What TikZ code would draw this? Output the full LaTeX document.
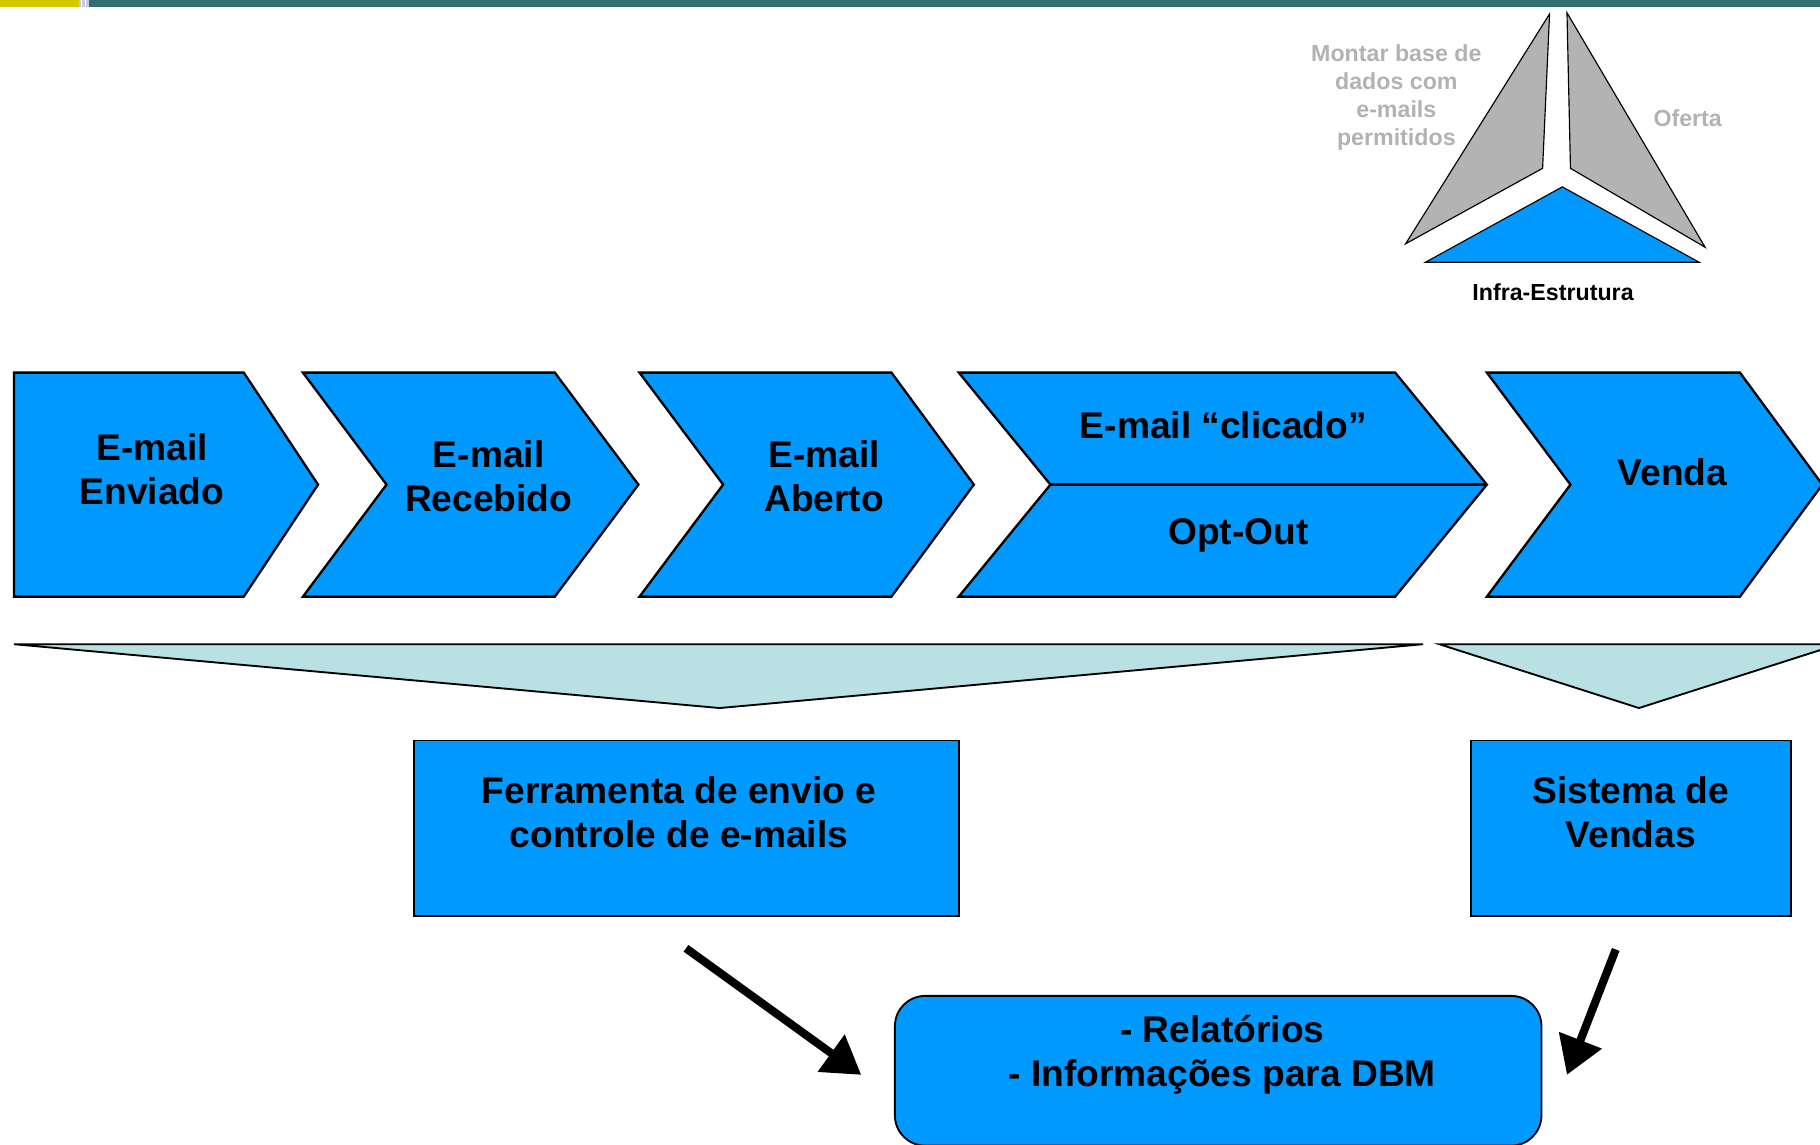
\documentclass[tikz,border=0pt]{standalone}
\usepackage{fontspec}
\setmainfont{Liberation Sans}
\usetikzlibrary{arrows.meta}
\definecolor{cblue}{HTML}{0099FF}
\definecolor{cgray}{HTML}{B3B3B3}
\definecolor{ctxtgray}{HTML}{B2B2B2}
\definecolor{ccyan}{HTML}{B9E0E3}
\definecolor{cteal}{HTML}{336F6E}
\definecolor{cyellow}{HTML}{D4C800}
\definecolor{cstripe}{HTML}{C8C8E2}
\tikzset{
  chev/.style={draw=black, line width=1pt, fill=cblue, line join=miter},
  graytri/.style={draw=black, line width=0.5pt, fill=cgray},
  bluetri/.style={draw=black, line width=0.5pt, fill=cblue},
  funnel/.style={draw=black, line width=0.8pt, fill=ccyan},
  bigtxt/.style={font=\fontsize{16}{19}\selectfont\bfseries, align=center, text=black},
  smalltxt/.style={font=\fontsize{10}{12}\selectfont\bfseries, align=center},
  boxnode/.style={draw=black, line width=0.8pt, fill=cblue, rectangle, inner sep=0pt},
  bigarrow/.style={line width=3.5pt, -{Triangle[length=16pt,width=19pt]}},
}
\begin{document}
\begin{tikzpicture}[x=0.5pt,y=-0.5pt]
\useasboundingbox (0,0) rectangle (1568,986);
\clip (0,0) rectangle (1568,986);
% top bar
\fill[cyellow] (0,0) rectangle (68,6);
\fill[cstripe] (68,0) rectangle (77,6);
\fill[cteal] (77,0) rectangle (1568,6);
\draw[white, line width=0.4pt] (70.5,0) -- (70.5,6) (73.5,0) -- (73.5,6);
% triangle group
\draw[graytri] (1335,12) -- (1329,145) -- (1211,210) -- cycle;
\draw[graytri] (1350,11) -- (1353,145) -- (1469,213) -- cycle;
\draw[bluetri] (1346,161) -- (1228,226) -- (1464,226) -- cycle;
\node[smalltxt, text=ctxtgray] (montar) at (1203,84) {Montar base de\\dados com\\e-mails\\permitidos};
\node[smalltxt, text=ctxtgray] (oferta) at (1454,102) {Oferta};
\node[smalltxt, text=black] (infra) at (1338,252) {Infra-Estrutura};
% chevrons
\draw[chev] (12,321) -- (210,321) -- (274,417.5) -- (210,514) -- (12,514) -- cycle;
\draw[chev] (261,321) -- (478,321) -- (550,417.5) -- (478,514) -- (261,514) -- (333,417.5) -- cycle;
\draw[chev] (551,321) -- (768,321) -- (839,417.5) -- (768,514) -- (551,514) -- (623,417.5) -- cycle;
\draw[chev] (826,321) -- (1202,321) -- (1281,417.5) -- (1202,514) -- (826,514) -- (905,417.5) -- cycle;
\draw[line width=1pt] (905,417.5) -- (1281,417.5);
\draw[chev] (1281,321) -- (1499,321) -- (1570,417.5) -- (1499,514) -- (1281,514) -- (1353,417.5) -- cycle;
\node[bigtxt] (c1) at (131,404) {E-mail\\Enviado};
\node[bigtxt] (c2) at (421,410) {E-mail\\Recebido};
\node[bigtxt] (c3) at (710,410) {E-mail\\Aberto};
\node[bigtxt] (c4a) at (1054,366) {E-mail “clicado”};
\node[bigtxt] (c4b) at (1067,461) {Opt-Out};
\node[bigtxt] (c5) at (1441,407) {Venda};
% funnels
\draw[funnel] (12,555) -- (1226,555) -- (620,610) -- cycle;
\draw[funnel] (1240,555) -- (1584,555) -- (1412,610) -- cycle;
% boxes
\node[boxnode, minimum width=469*0.5pt, minimum height=151*0.5pt] (ferr) at (591.5,713.5) {};
\node[bigtxt] (ferrtxt) at (585,700) {Ferramenta de envio e\\controle de e-mails};
\node[boxnode, minimum width=276*0.5pt, minimum height=151*0.5pt] (sist) at (1405,713.5) {};
\node[bigtxt] (sisttxt) at (1405,700) {Sistema de\\Vendas};
\node[boxnode, rounded corners=13pt, minimum width=557*0.5pt, minimum height=129*0.5pt] (out) at (1049.5,922.5) {};
\node[bigtxt] (outtxt) at (1053,909) {- Relatórios\\- Informações para DBM};
% arrows
\coordinate (a1s) at (591,817);
\coordinate (a1e) at (742,926);
\coordinate (a2s) at (1392,818);
\coordinate (a2e) at (1350,926);
\draw[bigarrow] (a1s) -- (a1e);
\draw[bigarrow] (a2s) -- (a2e);
\end{tikzpicture}
\end{document}
